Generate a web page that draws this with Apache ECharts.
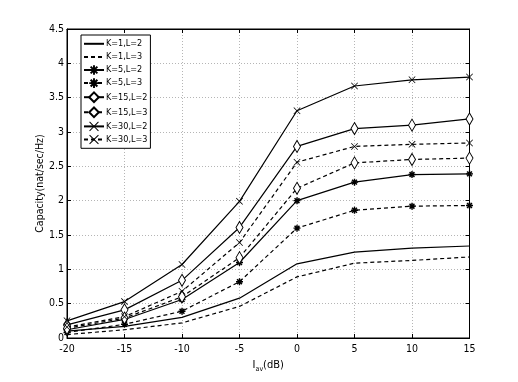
<!DOCTYPE html>
<html>
<head>
<meta charset="utf-8">
<script src="https://cdn.jsdelivr.net/npm/echarts@6/dist/echarts.min.js"></script>
<style>
  html, body { margin: 0; padding: 0; background: #fff; }
  #chart { width: 518px; height: 382px; }
</style>
</head>
<body>
<div id="chart"></div>
<script>
const xValues = [-20, -15, -10, -5, 0, 5, 10, 15];

const k1l2 = [0.10, 0.17, 0.30, 0.58, 1.08, 1.25, 1.31, 1.34];
const k1l3 = [0.05, 0.12, 0.22, 0.46, 0.89, 1.09, 1.13, 1.18];
const k5l2 = [0.12, 0.27, 0.56, 1.10, 2.00, 2.27, 2.38, 2.39];
const k5l3 = [0.08, 0.20, 0.39, 0.82, 1.60, 1.86, 1.92, 1.93];
const k15l2 = [0.19, 0.41, 0.84, 1.61, 2.79, 3.05, 3.10, 3.19];
const k15l3 = [0.14, 0.29, 0.60, 1.17, 2.18, 2.55, 2.60, 2.62];
const k30l2 = [0.25, 0.53, 1.07, 1.99, 3.31, 3.67, 3.76, 3.80];
const k30l3 = [0.16, 0.31, 0.68, 1.39, 2.56, 2.79, 2.82, 2.84];

const FONT = '"Liberation Sans Narrow", "DejaVu Sans Condensed", "Liberation Sans", Arial, sans-serif';

const SYM_X = "path://M-1,-0.85L-0.85,-1L0,-0.15L0.85,-1L1,-0.85L0.15,0L1,0.85L0.85,1L0,0.15L-0.85,1L-1,0.85L-0.15,0Z";
const SYM_STAR = "path://M-0.2,-1L0.2,-1L0.2,1L-0.2,1Z M-1,-0.2L1,-0.2L1,0.2L-1,0.2Z M-0.85,-0.55L-0.55,-0.85L0.85,0.55L0.55,0.85Z M0.55,-0.85L0.85,-0.55L-0.55,0.85L-0.85,0.55Z";
const SYM_DIAMOND = "path://M0,-1L0.5,0L0,1L-0.5,0Z";

function pairs(ys) {
  return xValues.map((x, i) => [x, ys[i]]);
}

function makeSeries(name, ys, dashed, symbol) {
  const s = {
    name: name,
    type: "line",
    data: pairs(ys),
    lineStyle: { color: "#000", width: 1.2, type: dashed ? [4, 3] : "solid" },
    itemStyle: { color: "#000" },
    animation: false,
  };
  if (symbol === "x") {
    s.symbol = SYM_X;
    s.symbolSize = 7;
  } else if (symbol === "star") {
    s.symbol = SYM_STAR;
    s.symbolSize = 7;
  } else if (symbol === "diamond") {
    s.symbol = SYM_DIAMOND;
    s.symbolSize = [7, 12];
    s.itemStyle = { color: "#fff", borderColor: "#000", borderWidth: 1 };
  } else {
    // plain line: keep an invisible symbol so the legend shows only the line
    s.symbol = "circle";
    s.symbolSize = 0.01;
    s.itemStyle = { color: "rgba(0,0,0,0)", borderWidth: 0 };
  }
  return s;
}

const chart = echarts.init(document.getElementById("chart"), null, { renderer: "canvas" });

const tickStyle = { inside: true, length: 4, lineStyle: { color: "#000" } };
const gridLine = { show: true, lineStyle: { color: "#b5b5b5", type: [1, 2] } };

const option = {
  backgroundColor: "#fff",
  animation: false,
  textStyle: { fontFamily: FONT },
  grid: {
    left: 67,
    right: 48.5,
    top: 29,
    bottom: 44,
    show: true,
    borderColor: "#000",
    borderWidth: 1,
  },
  legend: {
    orient: "vertical",
    left: 81,
    top: 35,
    padding: [4, 3, 4, 2],
    itemGap: 3.5,
    itemWidth: 20,
    itemHeight: 12,
    backgroundColor: "#fff",
    borderColor: "#000",
    borderWidth: 1,
    borderRadius: 0,
    textStyle: { fontFamily: FONT, fontSize: 9, color: "#000", padding: [0, 0, 0, -3] },
    data: ["K=1,L=2", "K=1,L=3", "K=5,L=2", "K=5,L=3", "K=15,L=2", "K=15,L=3", "K=30,L=2", "K=30,L=3"],
  },
  xAxis: [
    {
      type: "value",
      min: -20,
      max: 15,
      interval: 5,
      name: "{i|I}{sub|av}{i|(dB)}",
      nameLocation: "middle",
      nameGap: 19,
      nameMoveOverlap: false,
      nameTextStyle: {
        rich: {
          i: { fontFamily: FONT, fontSize: 11, color: "#000" },
          sub: { fontFamily: FONT, fontSize: 7, color: "#000", padding: [9, 0, 0, 0] },
        },
      },
      axisLine: { onZero: false, lineStyle: { color: "#000" } },
      axisTick: tickStyle,
      axisLabel: { color: "#000", fontFamily: FONT, fontSize: 10.5, margin: 6 },
      splitLine: gridLine,
    },
    {
      type: "value",
      position: "top",
      min: -20,
      max: 15,
      interval: 5,
      axisLine: { show: true, onZero: false, lineStyle: { color: "#000" } },
      axisTick: tickStyle,
      axisLabel: { show: false },
      splitLine: { show: false },
    },
  ],
  yAxis: [
    {
      type: "value",
      min: 0,
      max: 4.5,
      interval: 0.5,
      name: "Capacity(nat/sec/Hz)",
      nameLocation: "middle",
      nameGap: 21,
      nameMoveOverlap: false,
      nameTextStyle: { fontFamily: FONT, fontSize: 10.5, color: "#000" },
      axisLine: { show: true, onZero: false, lineStyle: { color: "#000" } },
      axisTick: Object.assign({ show: true }, tickStyle),
      axisLabel: { color: "#000", fontFamily: FONT, fontSize: 10.5, margin: 3 },
      splitLine: gridLine,
    },
    {
      type: "value",
      position: "right",
      min: 0,
      max: 4.5,
      interval: 0.5,
      axisLine: { show: true, onZero: false, lineStyle: { color: "#000" } },
      axisTick: Object.assign({ show: true }, tickStyle),
      axisLabel: { show: false },
      splitLine: { show: false },
    },
  ],
  series: [
    makeSeries("K=1,L=2", k1l2, false, null),
    makeSeries("K=1,L=3", k1l3, true, null),
    makeSeries("K=5,L=2", k5l2, false, "star"),
    makeSeries("K=5,L=3", k5l3, true, "star"),
    makeSeries("K=15,L=2", k15l2, false, "diamond"),
    makeSeries("K=15,L=3", k15l3, true, "diamond"),
    makeSeries("K=30,L=2", k30l2, false, "x"),
    makeSeries("K=30,L=3", k30l3, true, "x"),
  ],
};

chart.setOption(option);
</script>
</body>
</html>
